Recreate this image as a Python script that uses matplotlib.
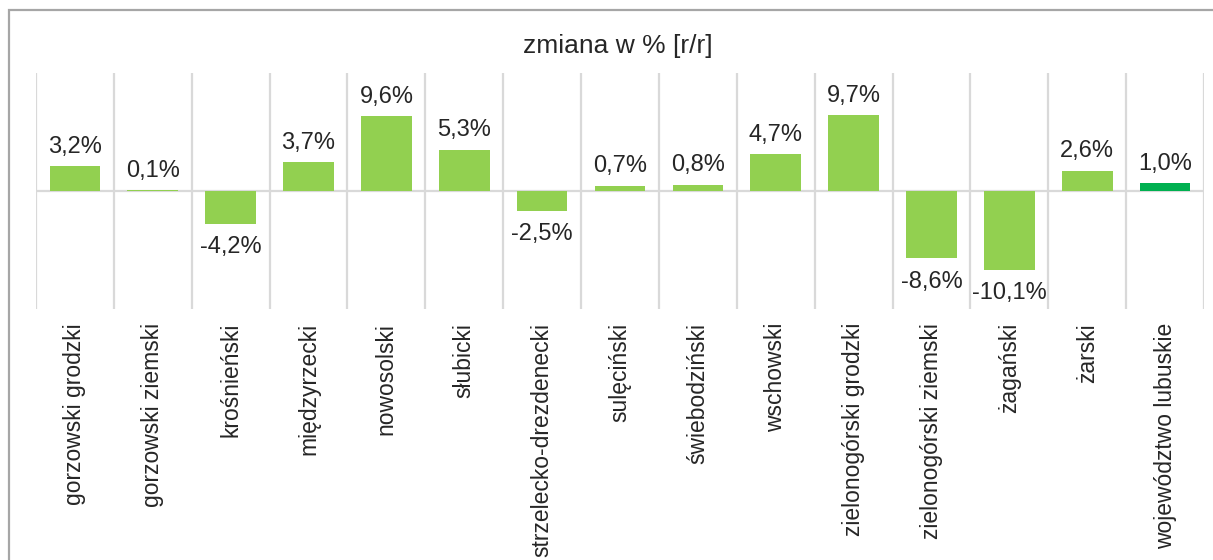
import matplotlib
matplotlib.use("Agg")
import matplotlib.pyplot as plt
from matplotlib.patches import Rectangle

categories = ["gorzowski grodzki", "gorzowski ziemski", "krośnieński", "międzyrzecki",
              "nowosolski", "słubicki", "strzelecko-drezdenecki", "sulęciński",
              "świebodziński", "wschowski", "zielonogórski grodzki", "zielonogórski ziemski",
              "żagański", "żarski", "województwo lubuskie"]
values = [3.2, 0.1, -4.2, 3.7, 9.6, 5.3, -2.5, 0.7, 0.8, 4.7, 9.7, -8.6, -10.1, 2.6, 1.0]
title = "zmiana w % [r/r]"

plt.rcParams['font.family'] = ['Liberation Sans', 'DejaVu Sans']

W, H = 1213, 560
fig = plt.figure(figsize=(W / 100, H / 100), dpi=100)

# outer chart border (extends past the right and bottom edges)
fig.patches.append(Rectangle((9 / W, -0.1), 1.2, 1 - 9.5 / H + 0.1, transform=fig.transFigure,
                             fill=False, edgecolor="#A6A6A6", linewidth=1.6))

ax = fig.add_axes([36 / W, 1 - 309 / H, 1168 / W, 236 / H])
n = len(categories)
colors = ["#92D050"] * (n - 1) + ["#00B050"]
x = list(range(n))
ax.bar(x, values, width=0.65, color=colors, zorder=3)

ax.set_xlim(-0.5, n - 0.5)
ax.set_ylim(-15.1, 15.1)
for b in range(n + 1):
    ax.axvline(b - 0.5, color="#D9D9D9", linewidth=1.6, zorder=1)
ax.axhline(0, color="#D9D9D9", linewidth=1.6, zorder=2)

for xi, v in zip(x, values):
    lab = f"{v:.1f}%".replace(".", ",")
    if v >= 0:
        ax.annotate(lab, (xi, v), xytext=(0, 6), textcoords="offset points",
                    ha="center", va="bottom", fontsize=17, color="#262626")
    else:
        ax.annotate(lab, (xi, v), xytext=(0, -9), textcoords="offset points",
                    ha="center", va="top", fontsize=17, color="#262626")

ax.set_yticks([])
ax.set_xticks(x)
ax.set_xticklabels(categories, rotation=90, fontsize=16.5, color="#262626")
ax.tick_params(axis="x", length=0, pad=10)
for s in ax.spines.values():
    s.set_visible(False)

fig.text(618 / W, 1 - 46 / H, title, ha="center", va="center", fontsize=19, color="#262626")

fig.savefig("out.png", dpi=100)
